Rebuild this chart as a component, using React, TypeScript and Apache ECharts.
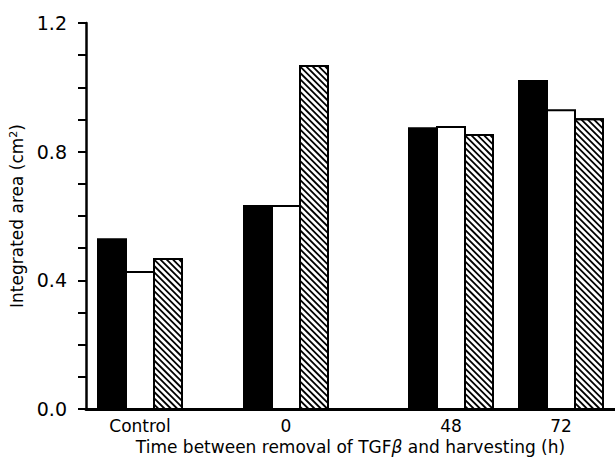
import React, { useEffect, useRef } from "react";
import * as echarts from "echarts";

// ---- data ----
const categories = ["Control", "0", "48", "72"];
const solidValues = [0.528, 0.631, 0.873, 1.02];
const openValues = [0.426, 0.631, 0.877, 0.929];
const hatchedValues = [0.466, 1.066, 0.852, 0.901];
const yTicks = [0.0, 0.4, 0.8, 1.2];

// ---- layout (uneven group spacing of the original figure) ----
const X_SPAN = 529;
const groupX = [54, 200, 365, 475];
const BAR_W = 28;
const FONT = "'DejaVu Sans', 'Liberation Sans', Arial, sans-serif";

function makeSeries(values: number[], kind: number) {
  return {
    type: "custom",
    name: ["solid", "open", "hatched"][kind],
    data: groupX.map((x, i) => [x, values[i]]),
    encode: { x: 0, y: 1 },
    renderItem: (params: any, api: any) => {
      const x = api.value(0);
      const v = api.value(1);
      const top = api.coord([x, v]);
      const base = api.coord([x, 0]);
      const cx = top[0] + (kind - 1) * BAR_W;
      const x0 = cx - BAR_W / 2;
      const x1 = cx + BAR_W / 2;
      const y0 = top[1];
      const y1 = base[1];
      const children: any[] = [
        {
          type: "rect",
          shape: { x: x0, y: y0, width: x1 - x0, height: y1 - y0 },
          style: {
            fill: kind === 0 ? "#000" : "#fff",
            stroke: "#000",
            lineWidth: 2,
          },
        },
      ];
      if (kind === 2) {
        const step = 6.3;
        const cMin = y0 - x1;
        const cMax = y1 - x0;
        for (let c = cMin + step / 2; c < cMax; c += step) {
          const xa = Math.max(x0, y0 - c);
          const xb = Math.min(x1, y1 - c);
          if (xb - xa < 0.5) continue;
          children.push({
            type: "line",
            shape: { x1: xa, y1: xa + c, x2: xb, y2: xb + c },
            style: { stroke: "#000", lineWidth: 1.8 },
          });
        }
        children.push({
          type: "rect",
          shape: { x: x0, y: y0, width: x1 - x0, height: y1 - y0 },
          style: { fill: "none", stroke: "#000", lineWidth: 2 },
        });
      }
      return { type: "group", children };
    },
  };
}

export default function App() {
  const ref = useRef<HTMLDivElement>(null);
  useEffect(() => {
    if (!ref.current) return;
    const chart = echarts.init(ref.current, undefined, { renderer: "svg" });
    chart.setOption({
      animation: false,
      backgroundColor: "#fff",
      grid: {
        left: 86,
        right: 0,
        top: 23,
        bottom: 50,
        containLabel: false,
        outerBoundsMode: "none",
      },
      xAxis: {
        type: "value",
        min: 0,
        max: X_SPAN,
        splitLine: { show: false },
        axisTick: { show: false },
        axisLine: { show: true, onZero: false, lineStyle: { color: "#000", width: 3 } },
        axisLabel: {
          customValues: groupX,
          formatter: (v: number) => {
            const i = groupX.indexOf(v);
            return i >= 0 ? categories[i] : "";
          },
          color: "#000",
          fontFamily: FONT,
          fontSize: 17,
          margin: 8,
        },
        name: "Time between removal of TGF{it|β} and harvesting (h)",
        nameLocation: "middle",
        nameGap: 29,
        nameTextStyle: {
          color: "#000",
          fontFamily: FONT,
          fontSize: 17,
          rich: {
            it: { fontStyle: "italic", fontFamily: FONT, fontSize: 17, color: "#000" },
          },
        },
      },
      yAxis: {
        type: "value",
        min: 0,
        max: yTicks[yTicks.length - 1],
        interval: 0.1,
        splitLine: { show: false },
        axisLine: { show: true, lineStyle: { color: "#000", width: 2.5 } },
        axisTick: { show: true, inside: false, length: 8, lineStyle: { color: "#000", width: 2 } },
        axisLabel: {
          formatter: (v: number) => {
            const hit = yTicks.some((t) => Math.abs(t - v) < 1e-6);
            return hit ? v.toFixed(1) : "";
          },
          color: "#000",
          fontFamily: FONT,
          fontSize: 19,
          margin: 19,
        },
        name: "Integrated area (cm{sup|2})",
        nameLocation: "middle",
        nameRotate: 90,
        nameGap: 59,
        nameTextStyle: {
          color: "#000",
          fontFamily: FONT,
          fontSize: 17,
          rich: {
            sup: { fontSize: 11, verticalAlign: "top", fontFamily: FONT, color: "#000", padding: [0, 0, 7, 0] },
          },
        },
      },
      series: [
        makeSeries(solidValues, 0),
        makeSeries(openValues, 1),
        makeSeries(hatchedValues, 2),
      ],
    });
    return () => chart.dispose();
  }, []);
  return (
    <div
      ref={ref}
      style={{ position: "fixed", left: 0, top: 0, width: 615, height: 459, background: "#fff" }}
    />
  );
}
